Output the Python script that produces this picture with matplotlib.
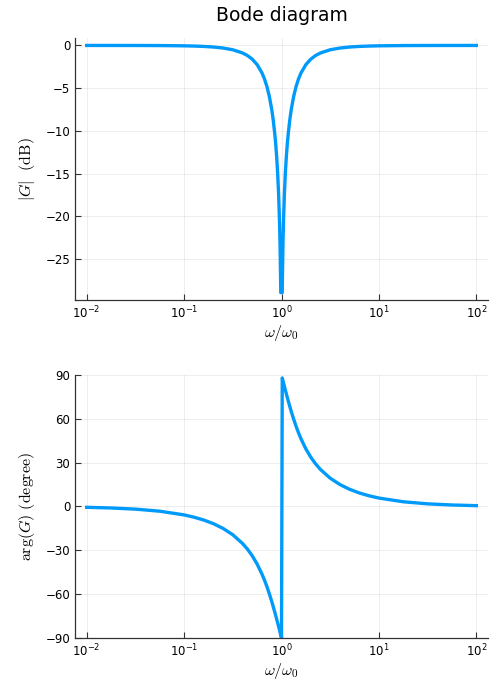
import matplotlib
matplotlib.use("Agg")
import matplotlib.pyplot as plt
import numpy as np

# normalised frequency omega/omega_0
omega = [0.01, 0.017783, 0.031623, 0.056234, 0.1, 0.12589, 0.15849, 0.19953,
         0.25119, 0.31623, 0.39811, 0.44668, 0.50119, 0.56234, 0.63096, 0.66834,
         0.70795, 0.74989, 0.79433, 0.82224, 0.85114, 0.87096, 0.89125, 0.91201,
         0.93325, 0.95499, 0.96605, 0.97724, 0.98243, 1.0,
         1.01789, 1.02329, 1.03514, 1.04713, 1.07152, 1.09648, 1.12202, 1.14815,
         1.17490, 1.21619, 1.25893, 1.33352, 1.41254, 1.49624, 1.58489, 1.77828,
         1.99526, 2.23872, 2.51189, 3.16228, 3.98107, 5.01187, 6.30957, 7.94328,
         10.0, 17.7828, 31.6228, 56.234, 100.0]

# |G| in dB
gain_db = [-0.0004, -0.0014, -0.0044, -0.0138, -0.0441, -0.0705, -0.1133, -0.1836,
           -0.3015, -0.5056, -0.8771, -1.1773, -1.6076, -2.2437, -3.2199, -3.908,
           -4.792, -5.950, -7.507, -8.718, -10.228, -11.466, -12.962, -14.827,
           -17.267, -20.748, -23.23, -26.745, -28.9, -28.9,
           -28.9, -26.745, -23.23, -20.748, -17.267, -14.827, -12.962, -11.466,
           -10.228, -8.718, -7.507, -5.950, -4.792, -3.908, -3.2199, -2.2437,
           -1.6076, -1.1773, -0.8771, -0.5056, -0.3015, -0.1836, -0.1133, -0.0705,
           -0.0441, -0.0138, -0.0044, -0.0014, -0.0004]

# arg(G) in degrees
phase_deg = [-0.57, -1.02, -1.81, -3.23, -5.77, -7.29, -9.23, -11.74,
             -15.01, -19.36, -25.32, -29.17, -33.80, -39.43, -46.35, -50.38,
             -54.83, -59.73, -65.08, -68.50, -72.06, -74.51, -77.01, -79.55,
             -82.13, -84.74, -86.05, -87.36, -87.97, -90.0,
             87.97, 87.36, 86.05, 84.74, 82.13, 79.55, 77.01, 74.51,
             72.06, 68.50, 65.08, 59.73, 54.83, 50.38, 46.35, 39.43,
             33.80, 29.17, 25.32, 19.36, 15.01, 11.74, 9.23, 7.29,
             5.77, 3.23, 1.81, 1.02, 0.57]

gain_ticks = [0, -5, -10, -15, -20, -25]
phase_ticks = [-90, -60, -30, 0, 30, 60, 90]
x_ticks = [1e-2, 1e-1, 1e0, 1e1, 1e2]

line_color = "#009AFA"
plt.rcParams["mathtext.fontset"] = "cm"

fig = plt.figure(figsize=(5, 7), dpi=100)
ax1 = fig.add_axes([0.15, 0.5714, 0.826, 0.3743])
ax2 = fig.add_axes([0.15, 0.0886, 0.826, 0.3757])


def style_axis(ax):
    ax.set_xscale("log")
    ax.set_xlim(10 ** -2.12, 10 ** 2.12)
    ax.set_xticks(x_ticks)
    ax.minorticks_off()
    ax.grid(True, color="black", alpha=0.08, linewidth=0.6)
    ax.spines["top"].set_visible(False)
    ax.spines["right"].set_visible(False)
    for s in ("left", "bottom"):
        ax.spines[s].set_color("#333333")
        ax.spines[s].set_linewidth(0.9)
    ax.tick_params(direction="in", length=4, width=0.8, color="#333333",
                   labelsize=8.5, labelcolor="black")
    ax.set_xlabel(r"$\omega/\omega_0$", fontsize=11.5, labelpad=1)


ax1.plot(omega, gain_db, color=line_color, linewidth=2.4)
style_axis(ax1)
ax1.set_ylim(-29.77, 0.87)
ax1.set_yticks(gain_ticks)
ax1.set_ylabel(r"$|G|\ \ (\mathrm{dB})$", fontsize=11.5, labelpad=6)
ax1.set_title("Bode diagram", fontsize=13.5, pad=12)

ax2.plot(omega, phase_deg, color=line_color, linewidth=2.4)
style_axis(ax2)
ax2.set_ylim(-90, 90)
ax2.set_yticks(phase_ticks)
ax2.set_ylabel(r"$\arg(G)\ (\mathrm{degree})$", fontsize=11.5, labelpad=6)

fig.savefig("out.png", dpi=100)
